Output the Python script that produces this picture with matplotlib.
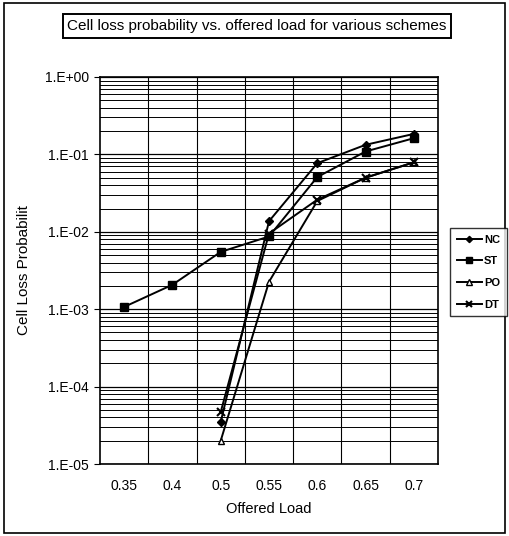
import numpy as np
import matplotlib
matplotlib.use("Agg")
import matplotlib.pyplot as plt
from matplotlib.patches import Rectangle
from matplotlib.ticker import LogLocator, FixedLocator, NullFormatter

plt.rcParams['font.family'] = ['Liberation Sans', 'DejaVu Sans']

categories = ["0.35", "0.4", "0.5", "0.55", "0.6", "0.65", "0.7"]
nc = [np.nan, np.nan, 3.5e-5, 1.37e-2, 7.7e-2, 1.33e-1, 1.84e-1]
st = [1.07e-3, 2.07e-3, 5.5e-3, 8.7e-3, 5.1e-2, 1.09e-1, 1.62e-1]
po = [np.nan, np.nan, 2.0e-5, 2.26e-3, 2.5e-2, 5.0e-2, 7.9e-2]
dt = [np.nan, np.nan, 4.7e-5, 9.5e-3, 2.6e-2, 5.0e-2, 7.9e-2]
series_names = ["NC", "ST", "PO", "DT"]
y_ticklabels = ["1.E-05", "1.E-04", "1.E-03", "1.E-02", "1.E-01", "1.E+00"]

W, H = 509, 536
fig = plt.figure(figsize=(W / 100, H / 100), dpi=100)
ax = fig.add_axes([100 / W, 1 - 464 / H, (438 - 100) / W, (464 - 77) / H])

x = np.arange(len(categories))
styles = [
    dict(marker='D', markersize=4, markerfacecolor='black'),
    dict(marker='s', markersize=6, markerfacecolor='black'),
    dict(marker='^', markersize=5, markerfacecolor='white'),
    dict(marker='x', markersize=6, markeredgewidth=1.5),
]
handles = []
for vals, name, stl in zip([nc, st, po, dt], series_names, styles):
    h, = ax.plot(x, vals, color='black', lw=1.4, markeredgecolor='black',
                 label=name, **stl)
    handles.append(h)

ax.set_yscale('log')
ax.set_ylim(1e-5, 1)
ax.set_xlim(-0.5, len(categories) - 0.5)

ax.yaxis.set_major_locator(LogLocator(base=10, numticks=10))
ax.yaxis.set_minor_locator(LogLocator(base=10, subs=np.arange(2, 10), numticks=10))
ax.yaxis.set_minor_formatter(NullFormatter())
ax.set_yticks([10.0 ** k for k in range(-5, 1)])
ax.set_yticklabels(y_ticklabels)
ax.tick_params(axis='y', which='major', direction='out', length=4, width=0.8,
               labelsize=10, pad=4)
ax.tick_params(axis='y', which='minor', length=0)

ax.set_xticks(x)
ax.set_xticklabels(categories)
ax.tick_params(axis='x', which='major', length=0, labelsize=10, pad=11)
ax.xaxis.set_minor_locator(FixedLocator(np.arange(0.5, len(categories) - 1, 1.0)))
ax.tick_params(axis='x', which='minor', length=0)

ax.grid(True, which='major', axis='y', color='black', lw=0.9)
ax.grid(True, which='minor', axis='y', color='black', lw=0.7)
ax.grid(True, which='minor', axis='x', color='black', lw=0.8)
ax.set_axisbelow(True)
for sp in ax.spines.values():
    sp.set_linewidth(1.2)
    sp.set_color('black')

ax.set_xlabel("Offered Load", fontsize=10.5, labelpad=6)
fig.text(24 / W, 1 - 270 / H, "Cell Loss Probabilit", rotation=90,
         ha='center', va='center', fontsize=11)

# Title box
fig.text(257 / W, 1 - 26 / H, "Cell loss probability vs. offered load for various schemes",
         ha='center', va='center', fontsize=11,
         bbox=dict(boxstyle='square,pad=0.3', facecolor='white', edgecolor='black', lw=1.4))

# Legend
leg = fig.legend(handles=handles, labels=series_names, loc='upper left',
                 bbox_to_anchor=(450 / W, 1 - 228 / H),
                 prop=dict(weight='bold', size=8),
                 frameon=True, fancybox=False, edgecolor='black',
                 handlelength=2.3, handletextpad=0.15, borderpad=0.6,
                 labelspacing=1.05, borderaxespad=0, markerscale=0.8)
leg.get_frame().set_linewidth(1.0)

# Outer border
fig.patches.append(Rectangle((4 / W, 3 / H), (505 - 4) / W, (533 - 3) / H,
                             transform=fig.transFigure, fill=False,
                             edgecolor='black', lw=1.2))

fig.savefig("out.png", dpi=100)
